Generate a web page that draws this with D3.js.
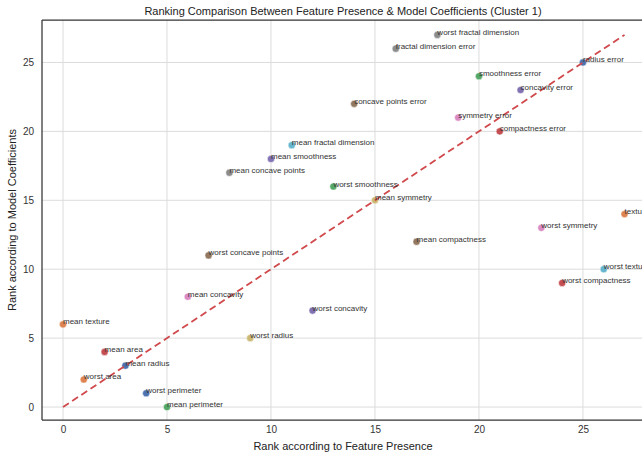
<!DOCTYPE html>
<html>
<head>
<meta charset="utf-8">
<script src="https://cdn.jsdelivr.net/npm/d3@7"></script>
<style>
  html, body { margin: 0; padding: 0; background: #fff; }
  svg { display: block; font-family: "Liberation Sans", Arial, sans-serif; }
</style>
</head>
<body>
<svg id="chart" width="642" height="456"></svg>
<script>
// Features in dataset order (perimeter error and area error are not part of cluster 1)
const features = [
  "mean radius", "mean texture", "mean perimeter", "mean area", "mean smoothness",
  "mean compactness", "mean concavity", "mean concave points", "mean symmetry", "mean fractal dimension",
  "radius error", "texture error", "smoothness error", "compactness error", "concavity error",
  "concave points error", "symmetry error", "fractal dimension error",
  "worst radius", "worst texture", "worst perimeter", "worst area", "worst smoothness",
  "worst compactness", "worst concavity", "worst concave points", "worst symmetry", "worst fractal dimension"
];
// Rank according to feature presence
const presenceRank = [3, 0, 5, 2, 10, 17, 6, 8, 15, 11, 25, 27, 20, 21, 22, 14, 19, 16, 9, 26, 4, 1, 13, 24, 12, 7, 23, 18];
// Rank according to model coefficients
const coefRank =     [3, 6, 0, 4, 18, 12, 8, 17, 15, 19, 25, 14, 24, 20, 23, 22, 21, 26, 5, 10, 1, 2, 16, 9, 7, 11, 13, 27];
const xTicks = [0, 5, 10, 15, 20, 25];
const yTicks = [0, 5, 10, 15, 20, 25];
const palette = ["#4C72B0", "#DD8452", "#55A868", "#C44E52", "#8172B3",
                 "#937860", "#DA8BC3", "#8C8C8C", "#CCB974", "#64B5CD"];

const svg = d3.select("#chart");
const plotLeft = 42, plotTop = 20, plotBottom = 420, plotRight = 652;

const x = d3.scaleLinear().domain([-1.01, 28.32]).range([plotLeft, plotRight]);
const y = d3.scaleLinear().domain([-0.94, 28.08]).range([plotBottom, plotTop]);

// Grid
const g = svg.append("g");
g.selectAll(".vgrid").data(xTicks).join("line")
  .attr("x1", d => x(d)).attr("x2", d => x(d))
  .attr("y1", plotTop).attr("y2", plotBottom)
  .attr("stroke", "#dcdcdc").attr("stroke-width", 1);
g.selectAll(".hgrid").data(yTicks).join("line")
  .attr("y1", d => y(d)).attr("y2", d => y(d))
  .attr("x1", plotLeft).attr("x2", plotRight)
  .attr("stroke", "#dcdcdc").attr("stroke-width", 1);

// Axes (tick labels only)
const xAxis = svg.append("g").attr("transform", `translate(0,${plotBottom})`)
  .call(d3.axisBottom(x).tickValues(xTicks).tickSize(0).tickPadding(6));
const yAxis = svg.append("g").attr("transform", `translate(${plotLeft},0)`)
  .call(d3.axisLeft(y).tickValues(yTicks).tickSize(0).tickPadding(8));
[xAxis, yAxis].forEach(a => {
  a.select(".domain").remove();
  a.selectAll("text").attr("fill", "#333").style("font-size", "10px")
    .style("font-family", "'Liberation Sans', Arial, sans-serif");
});

// Spines
svg.append("line").attr("x1", plotLeft).attr("x2", plotLeft).attr("y1", plotTop).attr("y2", plotBottom)
  .attr("stroke", "#333").attr("stroke-width", 1.25);
svg.append("line").attr("x1", plotLeft).attr("x2", plotRight).attr("y1", plotBottom).attr("y2", plotBottom)
  .attr("stroke", "#333").attr("stroke-width", 1.25);
svg.append("line").attr("x1", plotLeft).attr("x2", plotRight).attr("y1", plotTop).attr("y2", plotTop)
  .attr("stroke", "#333").attr("stroke-width", 1.25);

const data = features.map((f, i) => ({ name: f, px: presenceRank[i], cy: coefRank[i], color: palette[i % 10] }));

// Points
svg.append("g").selectAll("circle").data(data).join("circle")
  .attr("cx", d => x(d.px)).attr("cy", d => y(d.cy)).attr("r", 3.6)
  .attr("fill", d => d.color).attr("stroke", "#fff").attr("stroke-width", 0.5);

// Identity line
const maxRank = d3.max(presenceRank);
svg.append("line")
  .attr("x1", x(0)).attr("y1", y(0)).attr("x2", x(maxRank)).attr("y2", y(maxRank))
  .attr("stroke", "#d0494c").attr("stroke-width", 1.8).attr("stroke-dasharray", "7,4");

// Point labels
svg.append("g").selectAll("text").data(data).join("text")
  .attr("x", d => x(d.px)).attr("y", d => y(d.cy))
  .attr("fill", "#333").style("font-size", "8px")
  .text(d => d.name);

// Title and axis labels
svg.append("text").attr("x", 343).attr("y", 15).attr("text-anchor", "middle")
  .attr("fill", "#222").style("font-size", "11px")
  .text("Ranking Comparison Between Feature Presence & Model Coefficients (Cluster 1)");
svg.append("text").attr("x", 343).attr("y", 450).attr("text-anchor", "middle")
  .attr("fill", "#222").style("font-size", "11px")
  .text("Rank according to Feature Presence");
svg.append("text").attr("transform", `translate(16,${(plotTop + plotBottom) / 2}) rotate(-90)`)
  .attr("text-anchor", "middle").attr("fill", "#222").style("font-size", "11px")
  .text("Rank according to Model Coefficients");
</script>
</body>
</html>
